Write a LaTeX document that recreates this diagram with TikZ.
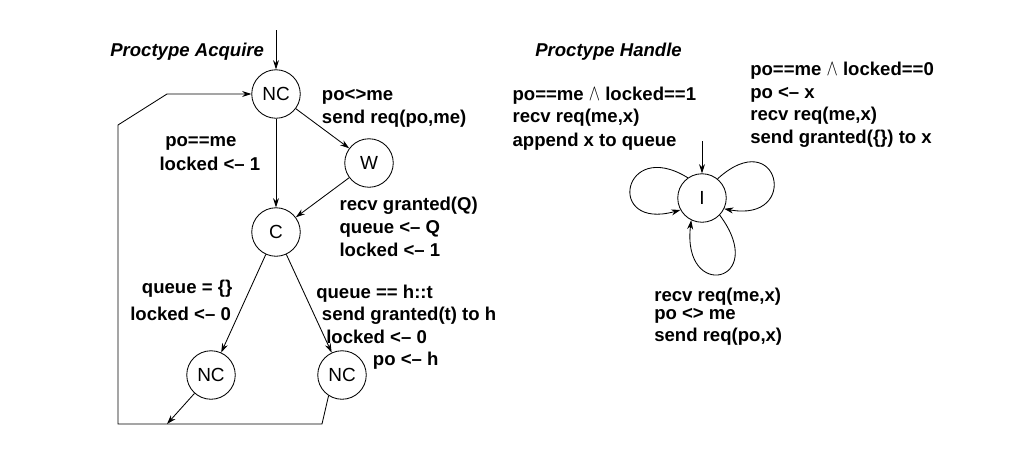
\documentclass[tikz,border=0pt]{standalone}
\usepackage{fontspec}
\setmainfont{Liberation Sans}
\usetikzlibrary{arrows.meta}
\begin{document}
\begin{tikzpicture}[x=0.025cm,y=0.025cm,
  state/.style={draw,circle,minimum size=48.5*0.025cm,inner sep=0pt,font=\fontsize{13.5}{16}\selectfont,line width=0.6pt},
  lbl/.style={anchor=base west,inner sep=0pt,font=\fontsize{13.2}{16}\selectfont\bfseries},
  ttl/.style={anchor=base west,inner sep=0pt,font=\fontsize{13.2}{16}\selectfont\bfseries\itshape},
  tr/.style={line width=0.6pt,-{Stealth[length=2.3mm,width=1.5mm]}},
  ln/.style={line width=0.6pt}]
\useasboundingbox (0,0) rectangle (1019,-460);
\newcommand{\myand}{\scalebox{1}[1.35]{$\wedge$}}
% states
\node[state] (nc) at (276,-94) {NC};
\node[state] (w) at (369,-163) {W};
\node[state] (c) at (276,-232) {C};
\node[state] (ncl) at (211,-375) {NC};
\node[state] (ncr) at (342,-375) {NC};
\node[state] (i) at (702,-198) {I};
% coordinates
\coordinate (start1) at (276,-30);
\coordinate (start2) at (702,-141);
\coordinate (b1) at (322,-424);
\coordinate (b2) at (118,-424);
\coordinate (b3) at (118,-125);
\coordinate (b4) at (167,-94);
\coordinate (bl) at (167,-424);
% transitions acquire
\draw[tr] (start1) -- (nc);
\draw[tr] (nc) -- (c);
\draw[tr] (nc) -- (w);
\draw[tr] (w) -- (c);
\draw[tr] (c) -- (ncl);
\draw[tr] (c) -- (ncr);
\draw[tr] (ncl) -- (bl);
\draw[tr] (ncr.237) -- (b1) -- (b2) -- (b3) -- (b4) -- (nc.west);
% handle
\draw[tr] (start2) -- (i);
\draw[tr] (i.125) .. controls (622,-137) and (605,-231) .. (i.209);
\draw[tr] (i.51) .. controls (779,-123) and (801,-223) .. (i.334);
\draw[tr] (i.316) .. controls (770,-283) and (681.5,-302) .. (i.244);
% titles
\node[ttl] (t1) at (110,-56.7) {Proctype Acquire};
\node[ttl] (t2) at (535,-56.7) {Proctype Handle};
% acquire labels
\node[lbl] (a1) at (321.7,-100) {po<>me};
\node[lbl] (a2) at (321.7,-123) {send req(po,me)};
\node[lbl] (a3) at (165,-146.7) {po==me};
\node[lbl] (a4) at (159.3,-170) {locked <– 1};
\node[lbl] (a5) at (339.3,-210.7) {recv granted(Q)};
\node[lbl] (a6) at (339.3,-233) {queue <– Q};
\node[lbl] (a7) at (339.3,-256) {locked <– 1};
\node[lbl] (a8) at (141.7,-293.3) {queue = \{\}};
\node[lbl] (a9) at (130,-320) {locked <– 0};
\node[lbl] (a10) at (316,-298.3) {queue == h::t};
\node[lbl] (a11) at (321.7,-320) {send granted(t) to h};
\node[lbl] (a12) at (326,-343.3) {locked <– 0};
\node[lbl] (a13) at (372.7,-365) {po <– h};
% handle labels
\node[lbl] (h1) at (512.3,-100) {po==me \myand{} locked==1};
\node[lbl] (h2) at (512.3,-122.7) {recv req(me,x)};
\node[lbl] (h3) at (512.3,-146) {append x to queue};
\node[lbl] (h4) at (750,-75) {po==me \myand{} locked==0};
\node[lbl] (h5) at (750,-98.3) {po <– x};
\node[lbl] (h6) at (750,-120.7) {recv req(me,x)};
\node[lbl] (h7) at (750,-143.3) {send granted(\{\}) to x};
\node[lbl] (h8) at (654,-301.7) {recv req(me,x)};
\node[lbl] (h9) at (654,-319.3) {po <> me};
\node[lbl] (h10) at (654,-341.7) {send req(po,x)};
\end{tikzpicture}
\end{document}
